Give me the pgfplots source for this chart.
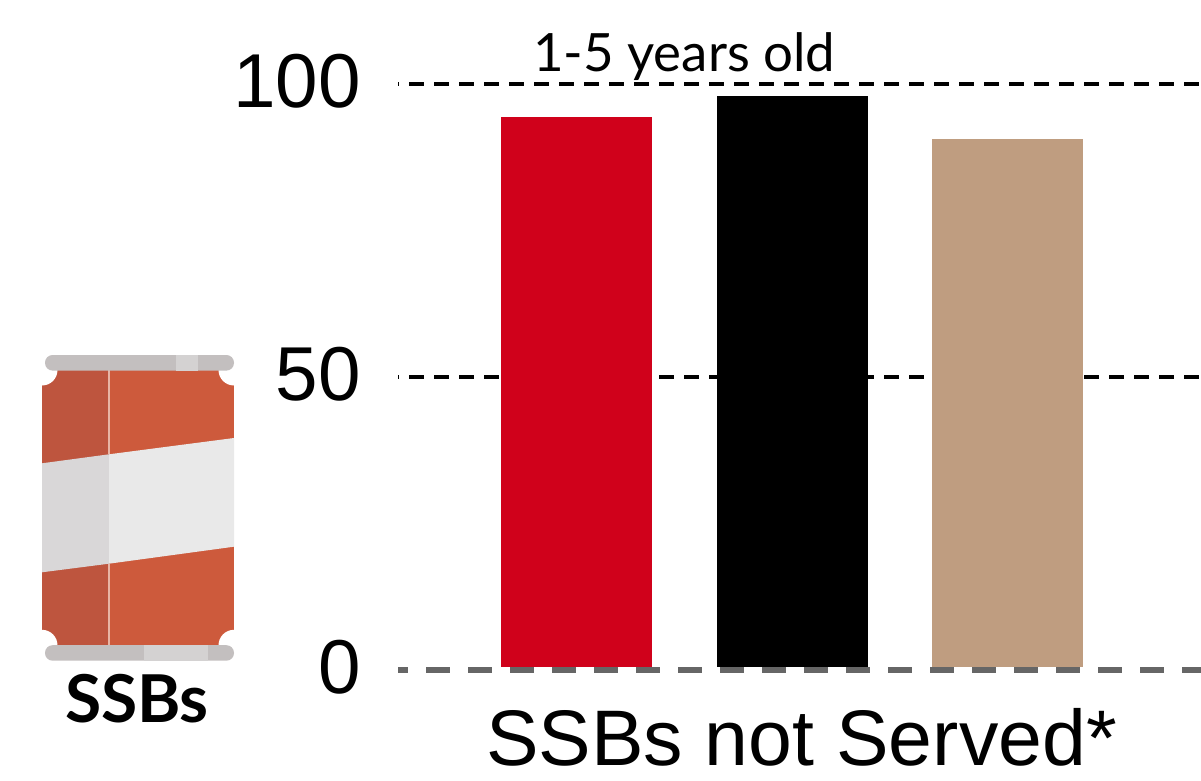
\documentclass[border=0pt]{standalone}
\usepackage{pgfplots}
\pgfplotsset{compat=1.18}
\usepackage{fontspec}
\setmainfont{Liberation Sans}
\newfontfamily\lato{Lato}
\definecolor{barred}{HTML}{D0011B}
\definecolor{bartan}{HTML}{BF9D80}
\definecolor{lidc}{HTML}{C3BFBF}
\definecolor{lidl}{HTML}{D4D2D2}
\definecolor{candark}{HTML}{BE553E}
\definecolor{canred}{HTML}{CD5A3C}
\definecolor{seam}{HTML}{E8B5A5}
\definecolor{bandd}{HTML}{D9D7D8}
\definecolor{bandl}{HTML}{E9E9E9}
\begin{document}
\begin{tikzpicture}
\useasboundingbox (0,0) rectangle (600.5pt,-390.5pt);
\begin{scope}[x=0.5pt,y=-0.5pt]
  % can icon
  \fill[canred] (109,370) rectangle (234,645.3);
  \fill[candark] (42,370) rectangle (109,645.3);
  \fill[bandd] (42,463.3) -- (109,454.3) -- (109,563.7) -- (42,572.3) -- cycle;
  \fill[bandl] (109,454.3) -- (234,438) -- (234,546.7) -- (109,563.7) -- cycle;
  \fill[seam] (108.4,370) rectangle (110,454.3);
  \fill[seam] (108.4,563.7) rectangle (110,645.3);
  \fill[white] (42,370) circle (15.5);
  \fill[white] (234,370) circle (15.5);
  \fill[white] (42,645.3) circle (15.5);
  \fill[white] (234,645.3) circle (15.5);
  \fill[lidc,rounded corners=3.8pt] (45,355) rectangle (234,370.6);
  \fill[lidl] (176,355) rectangle (197.7,370.6);
  \fill[lidc,rounded corners=3.8pt] (45,645.2) rectangle (234,660.7);
  \fill[lidl] (144,645.2) rectangle (208,660.7);
  \node[font=\lato\bfseries\fontsize{33}{33}\selectfont,anchor=base,inner sep=0pt] at (137,722) {SSBs};
\end{scope}
\begin{axis}[
  at={(199pt,-335pt)},anchor=south west,
  scale only axis,width=401.5pt,height=293.25pt,
  xmin=-0.828,xmax=2.898,ymin=0,ymax=100,
  clip=false,
  axis line style={draw=none},
  xtick=\empty,
  ytick={0,50,100},
  tick style={draw=none},
  major tick length=0pt,
  yticklabel style={font=\fontsize{38.2}{38.2}\selectfont,/pgf/number format/assume math mode=true},
  tick label style={inner sep=0pt},
  ytick pos=left,
  tick align=outside,
  every y tick label/.append style={xshift=-18.5pt,yshift=1.2pt},
]
\addplot[black,line width=2pt,dash pattern=on 7.5pt off 5pt,dash phase=7pt] coordinates {(-0.828,50) (2.898,50)};
\addplot[black,line width=2pt,dash pattern=on 7.5pt off 5pt,dash phase=7pt] coordinates {(-0.828,100) (2.898,100)};
\addplot[ybar,bar width=75.5pt,bar shift=0pt,fill=barred,draw=none] coordinates {(0,94.3)};
\addplot[ybar,bar width=75.5pt,bar shift=0pt,fill=black,draw=none] coordinates {(1.004,97.9)};
\addplot[ybar,bar width=75.5pt,bar shift=0pt,fill=bartan,draw=none] coordinates {(2,90.6)};
\addplot[white,line width=3pt] coordinates {(-0.828,0) (2.898,0)};
\addplot[color={rgb,255:red,102;green,102;blue,102},line width=3pt,dash pattern=on 12pt off 9pt,dash phase=7pt] coordinates {(-0.828,0) (2.898,0)};
\node[font=\lato\fontsize{26.4}{26.4}\selectfont,anchor=base,inner sep=0pt] at (axis cs:0.5,102.1) {1-5 years old};
\node[font=\fontsize{39.4}{39.4}\selectfont,anchor=base,inner sep=0pt] at (axis cs:1.044,-16.2) {SSBs not Served*};
\end{axis}
\end{tikzpicture}
\end{document}
